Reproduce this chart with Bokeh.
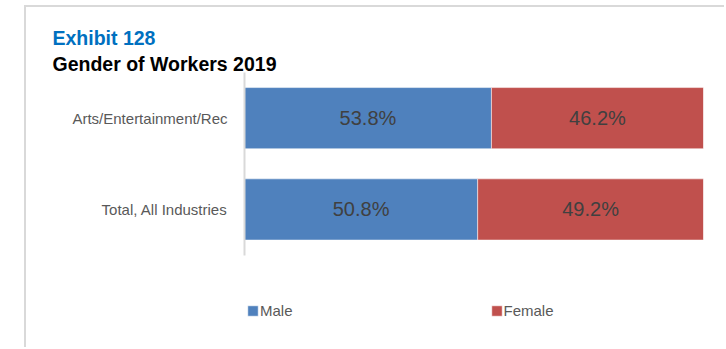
from bokeh.plotting import figure
from bokeh.models import (ColumnDataSource, Range1d, Legend, LegendItem, Title,
                          FixedTicker)
from bokeh.core.properties import value
from bokeh.embed import file_html
from bokeh.resources import INLINE

# ---- data ----
categories = ["Arts/Entertainment/Rec", "Total, All Industries"]
male = [53.8, 50.8]
female = [46.2, 49.2]
series_names = ["Male", "Female"]
title_1 = "Exhibit 128"
title_2 = "Gender of Workers 2019"

male_color = "#4F81BD"
female_color = "#C0504D"
FONT = "Liberation Sans"

n = len(categories)
ypos = [n - i - 0.5 for i in range(n)]          # top-to-bottom order
src = ColumnDataSource(dict(
    y=ypos,
    male=male,
    female=female,
    zero=[0] * n,
    total=[m + f for m, f in zip(male, female)],
    male_mid=[m / 2 for m in male],
    female_mid=[m + f / 2 for m, f in zip(male, female)],
    male_lbl=[f"{m:.1f}%" for m in male],
    female_lbl=[f"{f:.1f}%" for f in female],
))

p = figure(width=700, height=342, output_backend="svg", toolbar_location=None,
           x_range=Range1d(0, 100), y_range=Range1d(-1.034, n),
           x_axis_location=None,
           min_border_left=218, min_border_right=23, min_border_top=65, min_border_bottom=0)
p.title = None
p.outline_line_color = None
p.xgrid.visible = False
p.ygrid.visible = False
p.background_fill_color = "white"
p.border_fill_color = "white"
p.styles = {"margin-left": "24px", "margin-top": "5px",
            "border-left": "2px solid #d9d9d9",
            "border-top": "2px solid #d9d9d9"}

yax = p.yaxis[0]
yax.ticker = FixedTicker(ticks=ypos, minor_ticks=[])
yax.major_label_overrides = {y: c for y, c in zip(ypos, categories)}
yax.bounds = (0, n)
yax.axis_line_color = "#d9d9d9"
yax.axis_line_width = 2
yax.major_tick_line_color = None
yax.minor_tick_line_color = None
yax.major_tick_out = 0
yax.major_tick_in = 0
yax.major_label_standoff = 17
yax.major_label_text_font = FONT
yax.major_label_text_font_size = "15px"
yax.major_label_text_color = "#595959"

r_male = p.hbar(y="y", left="zero", right="male", height=0.67, source=src,
                fill_color=male_color, line_color="white", line_alpha=0.5, line_width=1)
r_female = p.hbar(y="y", left="male", right="total", height=0.67, source=src,
                  fill_color=female_color, line_color="white", line_alpha=0.5, line_width=1)

for xcol, tcol in (("male_mid", "male_lbl"), ("female_mid", "female_lbl")):
    p.text(x=xcol, y="y", text=tcol, source=src, text_align="center",
           text_baseline="middle", text_font=value(FONT), text_font_size="20px",
           text_color="#404040")

legend = Legend(items=[LegendItem(label=series_names[0], renderers=[r_male]),
                       LegendItem(label=series_names[1], renderers=[r_female])],
                orientation="horizontal", location=(2, 30),
                glyph_width=13, glyph_height=13, label_standoff=1,
                label_text_font=FONT, label_text_font_size="15px",
                label_text_color="#595959", label_height=13,
                padding=0, margin=0, spacing=197,
                border_line_color=None, background_fill_alpha=0)
p.add_layout(legend, "center")

p.add_layout(Title(text=title_2, align="left", offset=-192, standoff=-5.5,
                   text_font=FONT, text_font_style="bold", text_font_size="19.5px",
                   text_color="#000000"), "above")
p.add_layout(Title(text=title_1, align="left", offset=-192, standoff=9,
                   text_font=FONT, text_font_style="bold", text_font_size="19.5px",
                   text_color="#0070C0"), "above")

open("out.html", "w").write(file_html(p, INLINE))
